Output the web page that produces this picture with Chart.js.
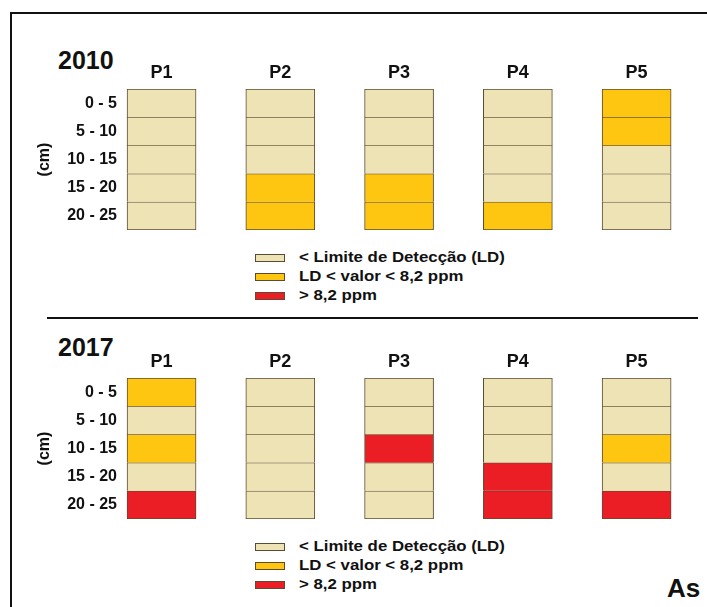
<!DOCTYPE html>
<html>
<head>
<meta charset="utf-8">
<script src="https://cdn.jsdelivr.net/npm/chart.js@4"></script>
<style>
  body { margin: 0; background: #fff; font-family: "Liberation Sans", Arial, sans-serif; }
  #page { position: relative; width: 707px; height: 607px; overflow: hidden; background: #fff; }
  .frame { position: absolute; left: 10px; top: 12px; width: 800px; height: 700px;
           border-top: 2px solid #111; border-left: 2px solid #111; }
  .year { position: absolute; left: 58px; font-weight: bold; font-size: 25px; line-height: 28px; color: #111; }
  .panel { position: absolute; left: 0; width: 707px; height: 240px; }
  .legend { position: absolute; left: 255px; }
  .legend div { position: relative; height: 19px; }
  .legend span.sw { position: absolute; left: 0; top: 6px; width: 30px; height: 8px;
                    box-sizing: border-box; border: 1px solid #5c4b33; }
  .legend span.tx { position: absolute; left: 44px; top: 0; font-weight: bold; font-size: 14px;
                    line-height: 19px; color: #111; white-space: nowrap;
                    transform: scaleX(1.2); transform-origin: left center; }
  .sep { position: absolute; left: 47px; top: 317px; width: 651px; height: 2px; background: #111; }
  .tag { position: absolute; left: 667px; top: 575px; font-weight: bold; font-size: 26px; line-height: 26px; color: #111; }
</style>
</head>
<body>
<div id="page">
  <div class="frame"></div>
  <div class="year" style="top:46px">2010</div>
  <div class="panel" style="top:0px"><canvas id="c2010" width="707" height="240"></canvas></div>
  <div class="legend" id="leg2010" style="top:248px"></div>
  <div class="sep"></div>
  <div class="year" style="top:333px">2017</div>
  <div class="panel" style="top:289px"><canvas id="c2017" width="707" height="240"></canvas></div>
  <div class="legend" id="leg2017" style="top:537px"></div>
  <div class="tag">As</div>
</div>
<script>
// sampling points (columns)
const points = ['P1', 'P2', 'P3', 'P4', 'P5'];
// depth layers (cm)
const depthLabels = ['0 - 5', '5 - 10', '10 - 15', '15 - 20', '20 - 25'];
const layerTop = [0, 5, 10, 15, 20];
const layerThickness = [5, 5, 5, 5, 5];

// concentration classes
const classNames = ['< Limite de Detecção (LD)', 'LD < valor < 8,2 ppm', '> 8,2 ppm'];
const classColors = ['#EDE3B4', '#FEC611', '#EB1D25'];

// class index per layer (rows) and point (columns)
const class2010 = [
  [0, 0, 0, 0, 1],
  [0, 0, 0, 0, 1],
  [0, 0, 0, 0, 0],
  [0, 1, 1, 0, 0],
  [0, 1, 1, 1, 0]
];
const class2017 = [
  [1, 0, 0, 0, 0],
  [0, 0, 0, 0, 0],
  [1, 0, 2, 0, 1],
  [0, 0, 0, 2, 0],
  [2, 0, 0, 2, 2]
];

const edgeColor = '#5c4b33';
const textColor = '#111';
const fontFamily = '"Liberation Sans", Arial, sans-serif';

const buildLegend = (id) => {
  const box = document.getElementById(id);
  classNames.forEach((name, i) => {
    const row = document.createElement('div');
    row.innerHTML = '<span class="sw" style="background:' + classColors[i] + '"></span>' +
                    '<span class="tx"></span>';
    row.querySelector('.tx').textContent = name;
    box.appendChild(row);
  });
};

const drawProfile = (canvasId, classes) => {
  const datasets = depthLabels.map((label, d) => ({
    label: label,
    data: points.map((p, i) => ({ x: i + 1, y: layerThickness[d] })),
    backgroundColor: classes[d].map(c => classColors[c]),
    borderColor: edgeColor,
    borderWidth: { top: 1, left: 1, right: 1, bottom: d === depthLabels.length - 1 ? 1 : 0 },
    borderSkipped: false,
    barThickness: 69
  }));

  new Chart(document.getElementById(canvasId), {
    type: 'bar',
    data: { datasets },
    options: {
      responsive: false,
      animation: false,
      layout: { padding: { left: 0, right: 11, top: 0, bottom: 10 } },
      plugins: { legend: { display: false }, tooltip: { enabled: false } },
      scales: {
        x: {
          type: 'linear',
          position: 'top',
          stacked: true,
          offset: false,
          min: 0.667,
          max: 5.5,
          grid: { display: false, drawTicks: false },
          border: { display: false },
          afterBuildTicks: (axis) => { axis.ticks = points.map((p, i) => ({ value: i + 1 })); },
          afterFit: (scale) => {
            scale.height = 89;
            scale.paddingLeft = 0;
            scale.paddingRight = 0;
          },
          ticks: {
            padding: 5,
            color: textColor,
            font: { family: fontFamily, size: 18, weight: 'bold' },
            callback: (v) => points[v - 1]
          }
        },
        y: {
          type: 'linear',
          stacked: true,
          reverse: true,
          min: 0,
          max: 25,
          grid: { display: false, drawTicks: false },
          border: { display: false },
          afterBuildTicks: (axis) => {
            axis.ticks = layerTop.map((t, d) => ({ value: t + layerThickness[d] / 2 }));
          },
          afterFit: (scale) => {
            scale.width = 122;
            scale.paddingTop = 0;
            scale.paddingBottom = 0;
          },
          ticks: {
            padding: 5,
            color: textColor,
            font: { family: fontFamily, size: 16, weight: 'bold' },
            callback: (v) => depthLabels[layerTop.findIndex((t, d) => t + layerThickness[d] / 2 === v)]
          },
          title: {
            display: true,
            text: '(cm)',
            color: textColor,
            padding: { top: 35, bottom: 0 },
            font: { family: fontFamily, size: 16, weight: 'bold' }
          }
        }
      }
    }
  });
};

drawProfile('c2010', class2010);
drawProfile('c2017', class2017);
buildLegend('leg2010');
buildLegend('leg2017');
</script>
</body>
</html>
